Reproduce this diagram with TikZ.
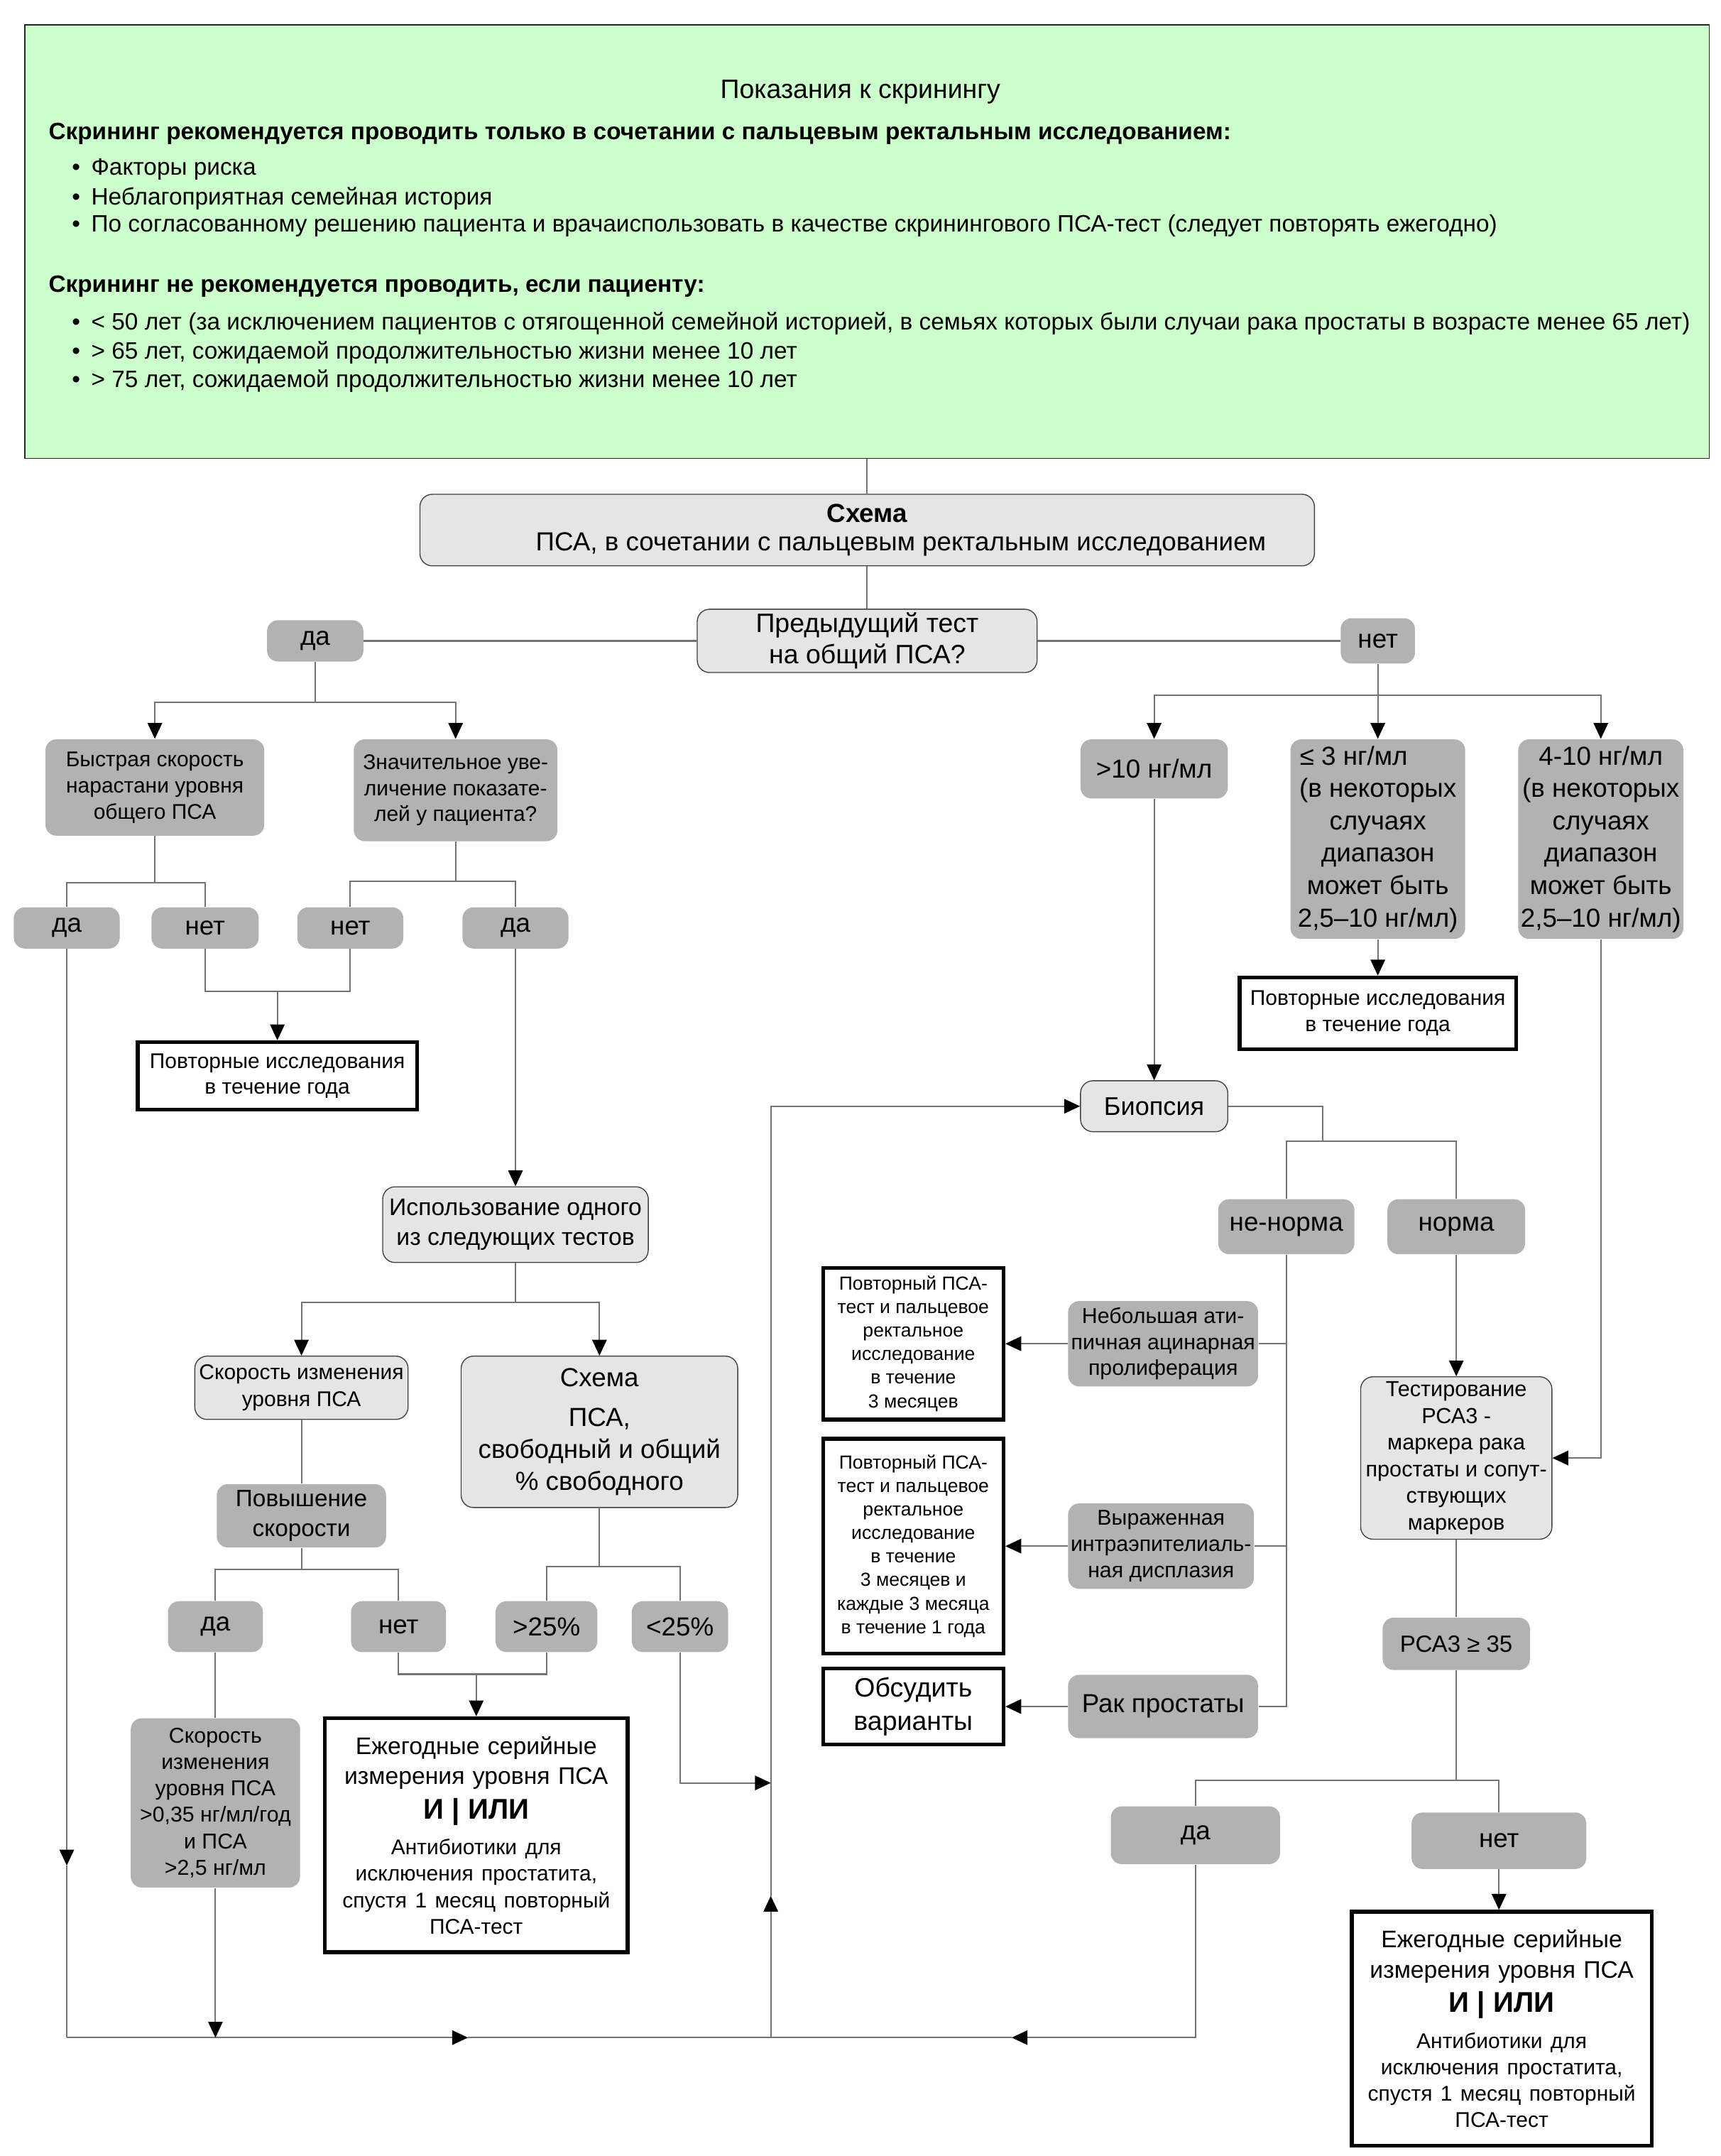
\documentclass[tikz,border=0pt]{standalone}
\usepackage{fontspec}
\setmainfont{Liberation Sans}
\usetikzlibrary{arrows.meta}
\definecolor{screengreen}{HTML}{CCFFCC}
\newcommand\fsz[2]{\fontsize{#1}{#2}\selectfont}
\newcommand\itm{\makebox[0.28cm][l]{\textbullet}}
\newcommand\annualtext{{\fsz{9.9}{12.5}Ежегодные серийные\\измерения уровня ПСА\par}%
  {\fsz{11.8}{14.2}\bfseries И | ИЛИ\par}\vspace{4pt}%
  {\fsz{8.8}{10.9}Антибиотики для\\исключения простатита,\\спустя 1 месяц повторный\\ПСА-тест\par}}

\begin{document}
\begin{tikzpicture}[x=0.02cm,y=-0.02cm,
    conn/.style={draw=black!55,line width=0.6pt},
    arr/.style={conn,-{Triangle[length=2.3mm,width=2.1mm,color=black]}},
    light/.style={draw=black!75,fill=black!10,rounded corners=1.8mm,align=center,inner sep=1pt},
    dark/.style={fill=black!30,rounded corners=1.6mm,align=center,inner sep=1pt},
    ans/.style={dark,font=\fsz{10.8}{13}},
    outbox/.style={draw=black,line width=1.6pt,fill=white,align=center,inner sep=1pt},
    listitem/.style={anchor=west,inner sep=0pt,font=\fsz{9.8}{12}}]
  \useasboundingbox (0,0) rectangle (1250,1566);

  % screening indications
  \node[draw=black!85,fill=screengreen,minimum width=24.48cm,minimum height=6.3cm,inner sep=0pt] (scr) at (630,175.5) {};
  \node[font=\fsz{11}{13}] (ttl) at (625,67) {Показания к скринингу};
  \node[listitem,font=\fsz{9.8}{12}\bfseries] (rec) at (35,97) {Скрининг рекомендуется проводить только в сочетании с пальцевым ректальным исследованием:};
  \node[listitem] (r1) at (52,123) {\itm Факторы риска};
  \node[listitem] (r2) at (52,144) {\itm Неблагоприятная семейная история};
  \node[listitem] (r3) at (52,164) {\itm По согласованному решению пациента и врачаиспользовать в качестве скринингового ПСА-тест (следует повторять ежегодно)};
  \node[listitem,font=\fsz{9.8}{12}\bfseries] (norec) at (35,208) {Скрининг не рекомендуется проводить, если пациенту:};
  \node[listitem] (q1) at (52,235) {\itm < 50 лет (за исключением пациентов с отягощенной семейной историей, в семьях которых были случаи рака простаты в возрасте менее 65 лет)};
  \node[listitem] (q2) at (52,256) {\itm > 65 лет, сожидаемой продолжительностью жизни менее 10 лет};
  \node[listitem] (q3) at (52,277) {\itm > 75 лет, сожидаемой продолжительностью жизни менее 10 лет};

  % top of the scheme
  \node[light,minimum width=13cm,minimum height=1.04cm,font=\fsz{10.8}{12}] (sch) at (630,385) {\textbf{Схема}\\\hspace*{0.98cm}ПСА, в сочетании с пальцевым ректальным исследованием};
  \node[light,minimum width=4.94cm,minimum height=0.92cm,font=\fsz{11}{13}] (prev) at (630,465.5) {Предыдущий тест\\на общий ПСА?};
  \node[ans,minimum width=1.4cm,minimum height=0.6cm] (yA) at (229,465.5) {да};
  \node[ans,minimum width=1.08cm,minimum height=0.66cm] (nA) at (1001,465.5) {нет};

  % left branch
  \node[dark,minimum width=3.18cm,minimum height=1.4cm,font=\fsz{8.8}{10.8}] (fast) at (112.5,572) {Быстрая скорость\\нарастани уровня\\общего ПСА};
  \node[dark,minimum width=2.96cm,minimum height=1.48cm,font=\fsz{8.8}{10.8}] (sig) at (331,574) {Значительное уве-\\личение показате-\\лей у пациента?};
  \node[ans,minimum width=1.54cm,minimum height=0.6cm] (y1) at (48.5,674) {да};
  \node[ans,minimum width=1.56cm,minimum height=0.6cm] (n1) at (149,674) {нет};
  \node[ans,minimum width=1.54cm,minimum height=0.6cm] (n2) at (254.5,674) {нет};
  \node[ans,minimum width=1.54cm,minimum height=0.6cm] (y2) at (374.5,674) {да};
  \node[outbox,minimum width=4.06cm,minimum height=0.98cm,font=\fsz{8.8}{10.8}] (rep1) at (201.5,781.5) {Повторные исследования\\в течение года};
  \node[light,minimum width=3.86cm,minimum height=1.1cm,font=\fsz{9.9}{12.2}] (use) at (374.5,889.5) {Использование одного\\из следующих тестов};
  \node[light,minimum width=3.1cm,minimum height=0.92cm,font=\fsz{8.8}{11}] (vel) at (219,1008) {Скорость изменения\\уровня ПСА};
  \node[light,minimum width=4.02cm,minimum height=2.2cm,font=\fsz{10.8}{13.2}] (free) at (435.5,1040) {Схема\\[3pt]ПСА,\\свободный и общий\\\% свободного};
  \node[dark,minimum width=2.46cm,minimum height=0.92cm,font=\fsz{9.8}{12.2}] (rise) at (219,1101) {Повышение\\скорости};
  \node[ans,minimum width=1.38cm,minimum height=0.74cm] (y3) at (156.5,1181.5) {да};
  \node[ans,minimum width=1.38cm,minimum height=0.74cm] (n3) at (289.5,1181.5) {нет};
  \node[ans,minimum width=1.48cm,minimum height=0.74cm] (g25) at (397,1181.5) {>25\%};
  \node[ans,minimum width=1.4cm,minimum height=0.74cm] (l25) at (494,1181.5) {<25\%};
  \node[dark,minimum width=2.46cm,minimum height=2.46cm,font=\fsz{8.9}{10.9}] (velo) at (156.5,1309.5) {Скорость\\изменения\\уровня ПСА\\>0,35 нг/мл/год\\и ПСА\\>2,5 нг/мл};
  \node[outbox,minimum width=4.4cm,minimum height=3.4cm,text width=4.3cm] (ann1) at (346,1333) {\annualtext};

  % right branch
  \node[dark,minimum width=2.14cm,minimum height=0.86cm,font=\fsz{10.8}{13}] (gt10) at (838.5,558.5) {>10 нг/мл};
  \node[dark,minimum width=2.54cm,minimum height=2.9cm,font=\fsz{10.8}{13.4}] (le3) at (1001,609.5) {≤ 3 нг/мл\hspace*{0.7cm}\\(в некоторых\\случаях\\диапазон\\может быть\\2,5–10 нг/мл)};
  \node[dark,minimum width=2.4cm,minimum height=2.9cm,font=\fsz{10.8}{13.4}] (r410) at (1163,609.5) {4-10 нг/мл\\(в некоторых\\случаях\\диапазон\\может быть\\2,5–10 нг/мл)};
  \node[outbox,minimum width=4.02cm,minimum height=1.04cm,font=\fsz{8.8}{10.8}] (rep2) at (1001,736) {Повторные исследования\\в течение года};
  \node[light,minimum width=2.14cm,minimum height=0.74cm,font=\fsz{10.6}{13}] (bio) at (838.5,803.5) {Биопсия};
  \node[ans,minimum width=1.98cm,minimum height=0.8cm] (abn) at (934.5,891) {не-норма};
  \node[ans,minimum width=2cm,minimum height=0.8cm] (nrm) at (1058,891) {норма};
  \node[dark,minimum width=2.76cm,minimum height=1.24cm,font=\fsz{8.9}{10.8}] (asap) at (845,976) {Небольшая ати-\\пичная ацинарная\\пролиферация};
  \node[dark,minimum width=2.7cm,minimum height=1.24cm,font=\fsz{8.9}{10.8}] (pin) at (843.5,1123) {Выраженная\\интраэпителиаль-\\ная дисплазия};
  \node[dark,minimum width=2.76cm,minimum height=0.92cm,font=\fsz{10.8}{13}] (canc) at (845,1239.5) {Рак простаты};
  \node[outbox,minimum width=2.62cm,minimum height=2.2cm,font=\fsz{7.8}{9.7}] (f1) at (663.5,976) {Повторный ПСА-\\тест и пальцевое\\ректальное\\исследование\\в течение\\3 месяцев};
  \node[outbox,minimum width=2.62cm,minimum height=3.12cm,font=\fsz{7.8}{9.7}] (f2) at (663.5,1123) {Повторный ПСА-\\тест и пальцевое\\ректальное\\исследование\\в течение\\3 месяцев и\\каждые 3 месяца\\в течение 1 года};
  \node[outbox,minimum width=2.62cm,minimum height=1.1cm,font=\fsz{11}{13.6}] (f3) at (663.5,1239.5) {Обсудить\\варианты};
  \node[light,minimum width=2.78cm,minimum height=2.36cm,font=\fsz{9}{11}] (pca) at (1058,1059) {Тестирование\\РСА3 -\\маркера рака\\простаты и сопут-\\ствующих\\маркеров};
  \node[dark,minimum width=2.14cm,minimum height=0.76cm,font=\fsz{9.7}{12}] (p35) at (1058,1194) {РСА3 ≥ 35};
  \node[ans,minimum width=2.46cm,minimum height=0.84cm] (y4) at (868.5,1333) {да};
  \node[ans,minimum width=2.54cm,minimum height=0.82cm] (n4) at (1089,1337) {нет};
  \node[outbox,minimum width=4.36cm,minimum height=3.4cm,text width=4.26cm] (ann2) at (1091,1473.5) {\annualtext};

  % connectors, left
  \draw[conn] (scr.south -| sch.north) -- (sch.north);
  \draw[conn] (prev.north |- sch.south) -- (prev.north);
  \draw[conn] (prev.west) -- (yA.east);
  \draw[conn] (prev.east) -- (nA.west);
  \coordinate (busA) at (229,510);
  \draw[conn] (yA.south) -- (busA);
  \draw[arr] (busA) -| (fast.north);
  \draw[arr] (busA) -| (sig.north);
  \coordinate (busB) at (112.5,641);
  \draw[conn] (fast.south) -- (busB) -| (y1.north);
  \draw[conn] (busB) -| (n1.north);
  \coordinate (busC) at (331,640);
  \draw[conn] (sig.south) -- (busC) -| (n2.north);
  \draw[conn] (busC) -| (y2.north);
  \coordinate (jnA) at (201.5,720);
  \draw[conn] (n1.south) |- (jnA);
  \draw[conn] (n2.south) |- (jnA);
  \draw[arr] (jnA) -- (rep1.north);
  \draw[arr] (y2.south) -- (use.north);
  \coordinate (busD) at (374.5,946);
  \draw[conn] (use.south) -- (busD);
  \draw[arr] (busD) -| (vel.north);
  \draw[arr] (busD) -| (free.north);
  \draw[conn] (vel.south) -- (rise.north);
  \coordinate (busE) at (219,1140);
  \draw[conn] (rise.south) -- (busE) -| (y3.north);
  \draw[conn] (busE) -| (n3.north);
  \coordinate (busF) at (435.5,1138);
  \draw[conn] (free.south) -- (busF) -| (g25.north);
  \draw[conn] (busF) -| (l25.north);
  \coordinate (jnB) at (346,1216);
  \draw[conn] (n3.south) |- (jnB);
  \draw[conn] (g25.south) |- (jnB);
  \draw[arr] (jnB) -- (ann1.north);
  \draw[conn] (y3.south) -- (velo.north);

  % return line to the biopsy
  \coordinate (cl) at (48.5,1480);
  \coordinate (cm) at (560,1480);
  \coordinate (ma) at (48.5,1355);
  \coordinate (mb) at (340,1480);
  \coordinate (mc) at (560,1377);
  \coordinate (md) at (735,1480);
  \coordinate (me) at (560,1295);
  \draw[arr] (y1.south) -- (ma);
  \draw[conn] (ma) -- (cl);
  \draw[arr] (cl) -- (mb);
  \draw[conn] (mb) -- (cm);
  \draw[arr] (velo.south) -- (velo.south |- cl);
  \draw[arr] (l25.south) |- (me);
  \draw[arr] (cm) -- (mc);
  \draw[arr] (mc) |- (bio.west);
  \draw[arr] (y4.south) |- (md);
  \draw[conn] (md) -- (cm);

  % connectors, right
  \coordinate (busG) at (1001,505);
  \draw[arr] (nA.south) -- (le3.north);
  \draw[arr] (busG) -| (gt10.north);
  \draw[arr] (busG) -| (r410.north);
  \draw[arr] (le3.south) -- (rep2.north);
  \draw[arr] (gt10.south) -- (bio.north);
  \coordinate (busH) at (961,829);
  \draw[conn] (bio.east) -| (busH);
  \draw[conn] (busH) -| (abn.north);
  \draw[conn] (busH) -| (nrm.north);
  \draw[conn] (abn.south) |- (canc.east);
  \draw[conn] (asap.east) -- (asap.east -| abn.south);
  \draw[conn] (pin.east) -- (pin.east -| abn.south);
  \draw[arr] (asap.west) -- (f1.east);
  \draw[arr] (pin.west) -- (f2.east);
  \draw[arr] (canc.west) -- (f3.east);
  \draw[arr] (nrm.south) -- (pca.north);
  \draw[arr] (r410.south) |- (pca.east);
  \draw[conn] (pca.south) -- (p35.north);
  \coordinate (busI) at (1058,1293);
  \draw[conn] (p35.south) -- (busI) -| (y4.north);
  \draw[conn] (busI) -| (n4.north);
  \draw[arr] (n4.south) -- (n4.south |- ann2.north);
\end{tikzpicture}
\end{document}
